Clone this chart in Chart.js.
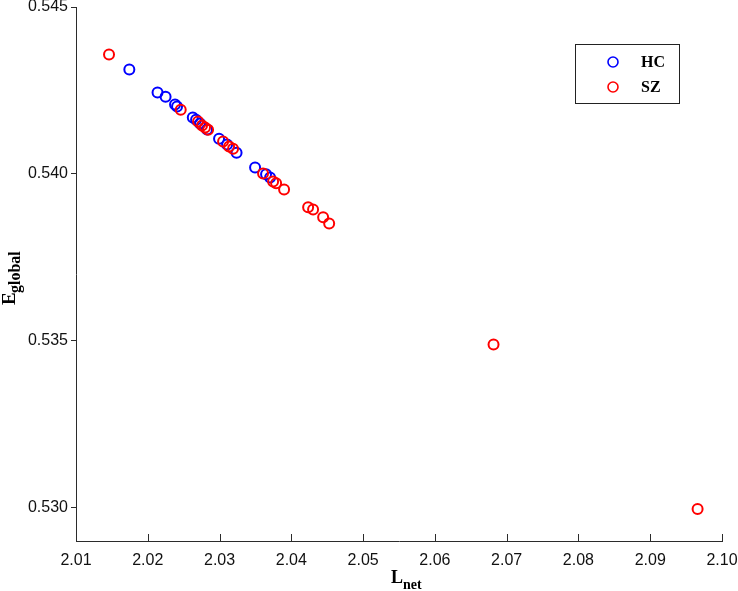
<!DOCTYPE html>
<html>
<head>
<meta charset="utf-8">
<script src="https://cdn.jsdelivr.net/npm/chart.js@4.4.0/dist/chart.umd.min.js"></script>
<style>
  html, body { margin: 0; padding: 0; background: #fff; }
  #wrap { width: 738px; height: 591px; }
</style>
</head>
<body>
<div id="wrap"><canvas id="chart" width="738" height="591"></canvas></div>
<script>
// data
const hcX = [2.01743, 2.02136, 2.02248, 2.02380, 2.02408, 2.02627, 2.02673, 2.02728, 2.02826,
             2.02993, 2.03105, 2.03237, 2.03495, 2.03648, 2.03704];
const hcY = [0.54313, 0.54244, 0.54231, 0.54208, 0.54202, 0.54169, 0.54162, 0.54151, 0.54133,
             0.54105, 0.54088, 0.54063, 0.54019, 0.53999, 0.53989];
const szX = [2.01460, 2.02459, 2.02701, 2.02756, 2.02798, 2.02840, 2.03049, 2.03133, 2.03188,
             2.03606, 2.03746, 2.03788, 2.03899, 2.04234, 2.04303, 2.04443, 2.04527, 2.06817, 2.09660];
const szY = [0.54358, 0.54192, 0.54157, 0.54145, 0.54139, 0.54132, 0.54097, 0.54082, 0.54075,
             0.54001, 0.53977, 0.53972, 0.53953, 0.53900, 0.53893, 0.53870, 0.53851, 0.53489, 0.52996];
const seriesNames = ['HC', 'SZ'];
const xTicks = [2.01, 2.02, 2.03, 2.04, 2.05, 2.06, 2.07, 2.08, 2.09, 2.10];
const yTicks = [0.530, 0.535, 0.540, 0.545];

const toPts = (xs, ys) => xs.map((x, i) => ({ x: x, y: ys[i] }));
const AXIS = '#2b2b2b';

// ticks pointing into the plot on the x axis, legend box, axis titles with subscripts
const extras = {
    id: 'extras',
    afterDraw(chart) {
        const c = chart.ctx, a = chart.chartArea, xs = chart.scales.x;
        c.save();
        c.strokeStyle = AXIS;
        c.lineWidth = 1;
        xTicks.forEach(t => {
            const px = Math.round(xs.getPixelForValue(t)) + 0.5;
            c.beginPath();
            c.moveTo(px, a.bottom);
            c.lineTo(px, a.bottom - 7);
            c.stroke();
        });

        // legend
        c.fillStyle = '#fff';
        c.fillRect(575.5, 44.5, 104, 59);
        c.strokeStyle = '#222';
        c.strokeRect(575.5, 44.5, 104, 59);
        const cols = ['#0000ff', '#ff0000'];
        seriesNames.forEach((name, i) => {
            const cy = 62 + i * 25;
            c.beginPath();
            c.arc(613, cy, 5, 0, Math.PI * 2);
            c.strokeStyle = cols[i];
            c.lineWidth = 1.6;
            c.stroke();
            c.fillStyle = '#000';
            c.font = 'bold 16px "Liberation Serif", serif';
            c.textBaseline = 'middle';
            c.textAlign = 'left';
            c.fillText(name, 641, cy + 1);
        });

        // x title: L_net
        c.fillStyle = '#000';
        c.textBaseline = 'alphabetic';
        c.font = 'bold 18px "Liberation Serif", serif';
        c.fillText('L', 391, 583);
        c.font = 'bold 14px "Liberation Serif", serif';
        c.fillText('net', 403, 589);

        // y title: E_global (rotated)
        c.translate(15, 272);
        c.rotate(-Math.PI / 2);
        c.textAlign = 'left';
        c.font = 'bold 19px "Liberation Serif", serif';
        c.fillText('E', -33, 0);
        c.font = 'bold 16px "Liberation Serif", serif';
        c.fillText('global', -21, 5);
        c.restore();
    }
};

new Chart(document.getElementById('chart'), {
    type: 'scatter',
    data: {
        datasets: [
            { label: seriesNames[0], data: toPts(hcX, hcY), order: 1,
              borderColor: '#0000ff', backgroundColor: 'rgba(0,0,0,0)',
              pointRadius: 5, pointBorderWidth: 2, pointHoverRadius: 5 },
            { label: seriesNames[1], data: toPts(szX, szY), order: 0,
              borderColor: '#ff0000', backgroundColor: 'rgba(0,0,0,0)',
              pointRadius: 5, pointBorderWidth: 2, pointHoverRadius: 5 }
        ]
    },
    options: {
        responsive: false,
        animation: false,
        devicePixelRatio: 1,
        layout: { padding: { top: 7, right: 16, left: 0, bottom: 0 } },
        plugins: { legend: { display: false }, tooltip: { enabled: false } },
        scales: {
            x: {
                type: 'linear', min: 2.01, max: 2.10,
                afterBuildTicks: s => { s.ticks = xTicks.map(v => ({ value: v })); },
                afterFit: s => { s.height = 50; s.paddingLeft = 0; s.paddingRight = 0; },
                grid: { display: true, drawOnChartArea: false, drawTicks: false, color: AXIS },
                border: { display: true, color: AXIS, width: 1 },
                ticks: {
                    color: '#111', padding: 10, maxRotation: 0, autoSkip: false,
                    font: { family: '"Liberation Sans", Arial, sans-serif', size: 16 },
                    callback: v => v.toFixed(2)
                }
            },
            y: {
                type: 'linear', min: 0.529, max: 0.545,
                afterBuildTicks: s => { s.ticks = yTicks.map(v => ({ value: v })); },
                afterFit: s => { s.width = 76; s.paddingTop = 0; s.paddingBottom = 0; },
                grid: { display: true, drawOnChartArea: false, drawTicks: true, tickLength: 5, color: AXIS },
                border: { display: true, color: AXIS, width: 1 },
                ticks: {
                    color: '#111', padding: 3, autoSkip: false,
                    font: { family: '"Liberation Sans", Arial, sans-serif', size: 16 },
                    callback: v => v.toFixed(3)
                }
            }
        }
    },
    plugins: [extras]
});
</script>
</body>
</html>
